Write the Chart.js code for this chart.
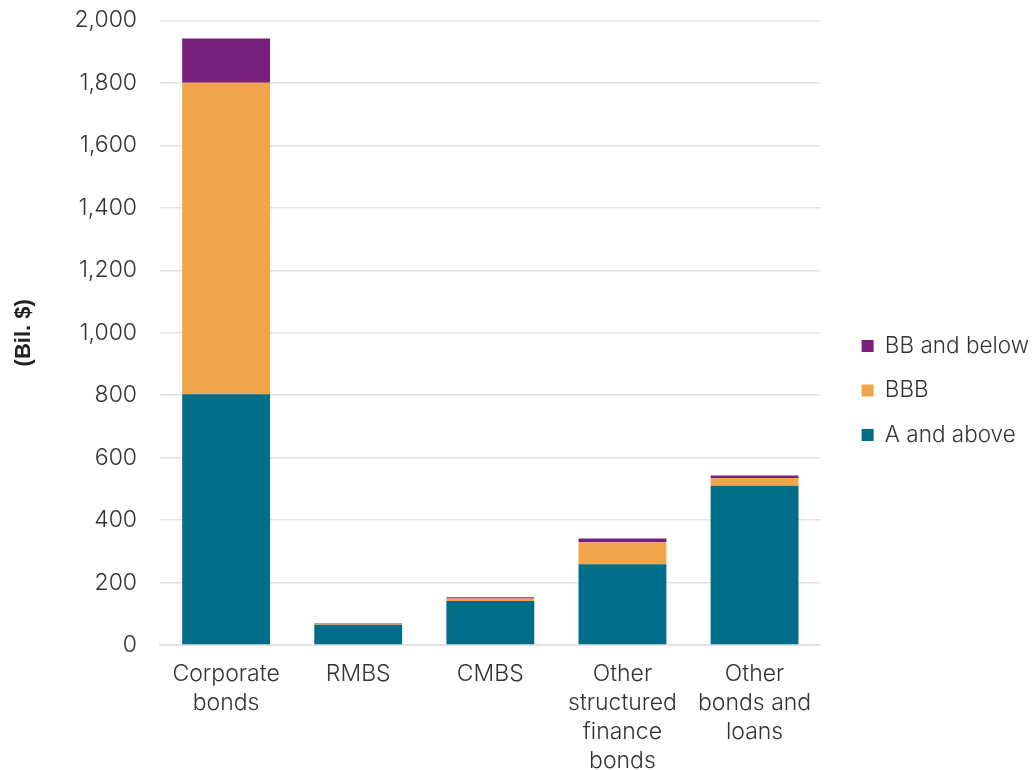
<!DOCTYPE html>
<html>
<head>
<meta charset="utf-8">
<script src="https://cdn.jsdelivr.net/npm/chart.js@4/dist/chart.umd.min.js"></script>
<style>
  html, body { margin: 0; padding: 0; background: #fff; }
  #wrap { width: 1032px; height: 770px; }
</style>
</head>
<body>
<div id="wrap"><canvas id="holdings"></canvas></div>
<script>
const categories = [
  ['Corporate', 'bonds'],
  'RMBS',
  'CMBS',
  ['Other', 'structured', 'finance', 'bonds'],
  ['Other', 'bonds and', 'loans'],
];

// Bil. $ by rating bucket
const aAndAbove = [803, 65, 141, 259, 510];
const bbb = [998, 3, 8, 70, 25];
const bbAndBelow = [141, 2, 4, 12, 8];

const yTicks = [0, 200, 400, 600, 800, 1000, 1200, 1400, 1600, 1800, 2000];

const textColor = '#333333';
const gridColor = '#e2e2e2';
const tickFont = { family: 'Inter', size: 23, weight: 300, lineHeight: 1.26 };

// nudge the legend items right and a little up
const legendShift = {
  id: 'legendShift',
  afterLayout(chart) {
    const legend = chart.legend;
    legend.left += 19;
    legend.right += 19;
    legend.top -= 5;
    legend.bottom -= 5;
  },
};

const canvas = document.getElementById('holdings');

new Chart(canvas, {
  type: 'bar',
  data: {
    labels: categories,
    datasets: [
      { label: 'A and above', data: aAndAbove, backgroundColor: '#006e89' },
      { label: 'BBB', data: bbb, backgroundColor: '#f1a54b' },
      { label: 'BB and below', data: bbAndBelow, backgroundColor: '#78207c' },
    ],
  },
  plugins: [legendShift],
  options: {
    responsive: true,
    maintainAspectRatio: false,
    animation: false,
    layout: { padding: { top: 0, left: 11, right: 12, bottom: -21 } },
    datasets: {
      bar: { barPercentage: 0.665, categoryPercentage: 1 },
    },
    plugins: {
      tooltip: { enabled: false },
      legend: {
        position: 'right',
        reverse: true,
        labels: {
          color: textColor,
          font: { family: 'Inter', size: 22.5, weight: 300, lineHeight: 1 },
          boxWidth: 12,
          boxHeight: 12,
          padding: 22,
        },
      },
    },
    scales: {
      x: {
        stacked: true,
        grid: { display: false, drawTicks: false },
        border: { color: gridColor, width: 2 },
        ticks: {
          color: textColor,
          font: tickFont,
          maxRotation: 0,
          autoSkip: false,
          padding: 15,
        },
      },
      y: {
        stacked: true,
        min: 0,
        max: 2000,
        afterBuildTicks: axis => {
          axis.ticks = yTicks.map(value => ({ value }));
        },
        grid: { color: gridColor, lineWidth: 1.5, tickLength: 17, tickColor: 'rgba(0,0,0,0)' },
        border: { display: false },
        title: {
          display: true,
          text: '(Bil. $)',
          color: '#222',
          font: { family: 'Liberation Sans', size: 22, weight: 'bold' },
          padding: { top: 0, bottom: 31 },
        },
        ticks: {
          color: textColor,
          font: tickFont,
          padding: 6,
          callback: value => value.toLocaleString('en-US'),
        },
      },
    },
  },
});
</script>
</body>
</html>
